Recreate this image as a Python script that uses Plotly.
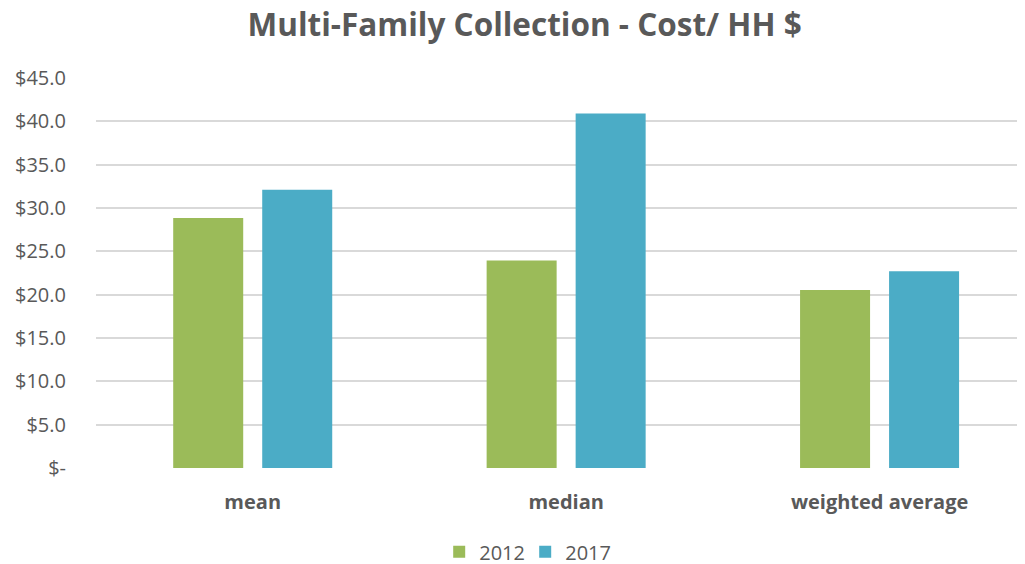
import plotly.graph_objects as go

categories = ["mean", "median", "weighted average"]
series_names = ["2012", "2017"]
values_2012 = [28.85, 23.95, 20.55]
values_2017 = [32.1, 40.9, 22.7]
tick_vals = [0, 5, 10, 15, 20, 25, 30, 35, 40, 45]
tick_text = ["$-", "$5.0", "$10.0", "$15.0", "$20.0", "$25.0", "$30.0", "$35.0", "$40.0", "$45.0"]

colors = {"2012": "#9BBB59", "2017": "#4BACC6"}
FONT = "Open Sans"
GREY = "#595959"

fig = go.Figure()
for name, vals in zip(series_names, [values_2012, values_2017]):
    fig.add_trace(go.Bar(
        x=categories, y=vals, name=name,
        marker=dict(color=colors[name], line=dict(width=0)),
        hoverinfo="x+y+name",
    ))

fig.update_layout(
    width=1017, height=556,
    paper_bgcolor="white", plot_bgcolor="white",
    margin=dict(l=88, r=0, t=70, b=96, autoexpand=False),
    barmode="group", bargap=0.432, bargroupgap=0.2135,
    title=dict(
        text="<b>Multi-Family Collection - Cost/ HH $</b>",
        x=0.508, xref="container", xanchor="center",
        y=0.969, yref="container", yanchor="middle",
        font=dict(family=FONT, size=31.5, color=GREY),
    ),
    font=dict(family=FONT, color=GREY),
    showlegend=True,
    legend=dict(
        orientation="h", x=0.462, xanchor="center", y=-0.215, yanchor="middle",
        font=dict(family=FONT, size=20, color=GREY),
        itemwidth=30, traceorder="normal",
        entrywidth=41, entrywidthmode="pixels",
    ),
)
fig.update_xaxes(
    type="category", range=[-0.5, 2.464], automargin=False,
    showgrid=False, zeroline=False, showline=False,
    ticks="", ticklabelstandoff=20,
    tickfont=dict(family=FONT, size=20, color=GREY),
    tickprefix="<b>", ticksuffix="</b>",
)
fig.update_yaxes(
    range=[0, 45], automargin=False,
    tickvals=tick_vals, ticktext=tick_text,
    showgrid=True, gridcolor="#D9D9D9", gridwidth=1.5,
    zeroline=False, showline=False, ticks="",
    ticklabelstandoff=29,
    tickfont=dict(family=FONT, size=20, color=GREY),
)

fig.write_html("out.html")
